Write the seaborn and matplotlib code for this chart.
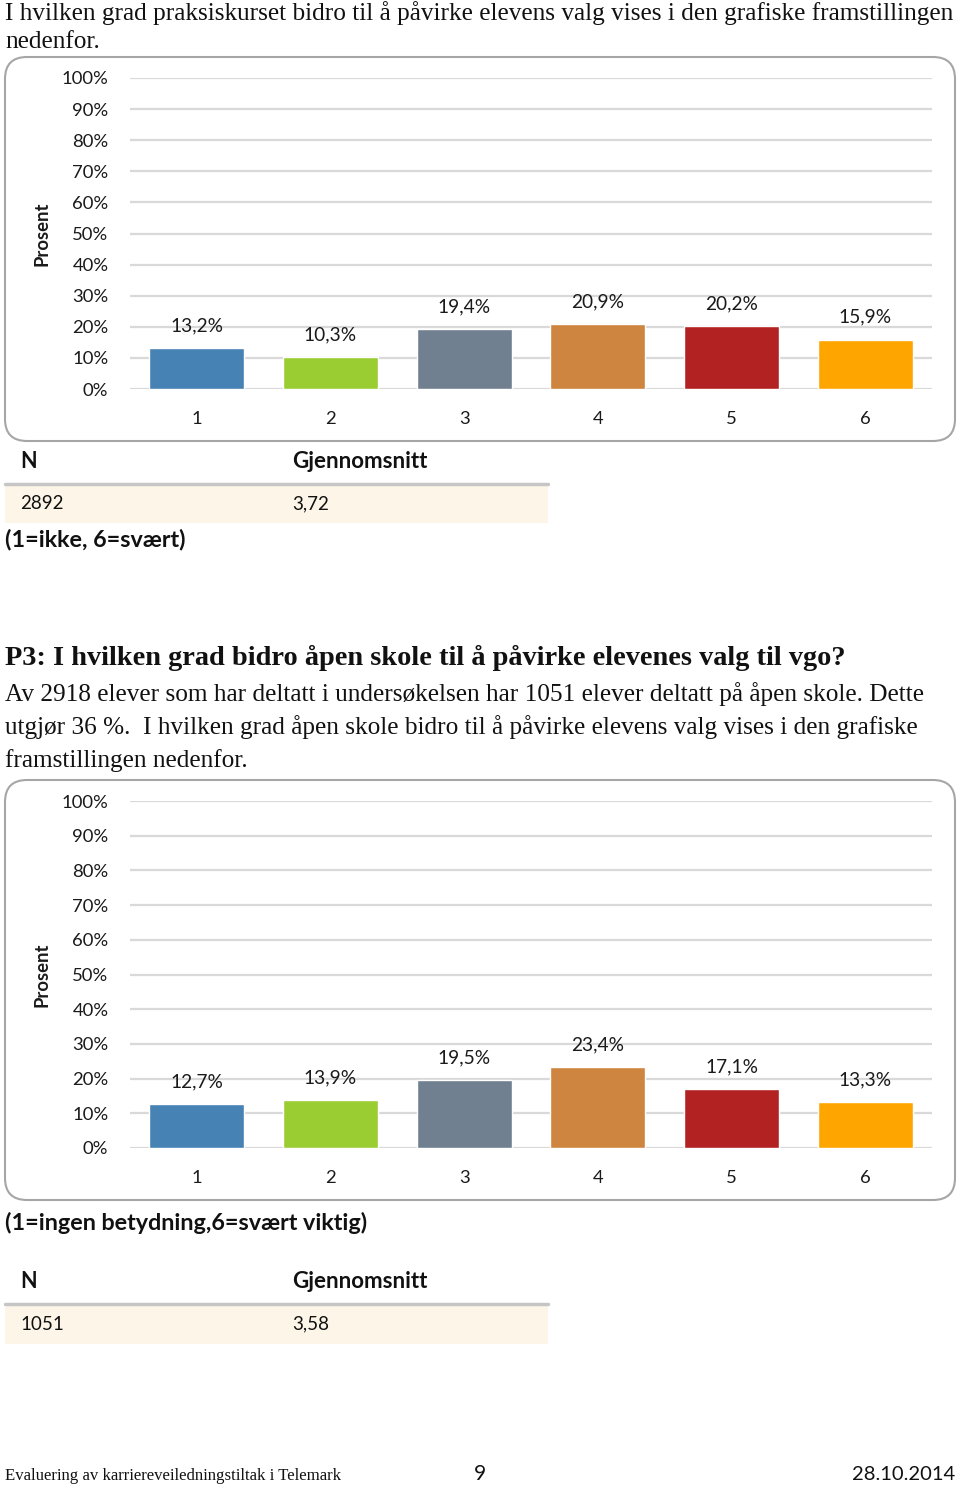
import matplotlib
matplotlib.use("Agg")
import matplotlib.pyplot as plt
from matplotlib.patches import FancyBboxPatch, Rectangle
import seaborn as sns
import pandas as pd

sns.set_theme(style="white")
plt.rcParams['font.family'] = ['Lato', 'DejaVu Sans']

# ---- data ----
categories = ["1", "2", "3", "4", "5", "6"]
bar_colors = ["#4682B4", "#9ACD32", "#708090", "#CD853F", "#B22222", "#FFA500"]
values_praksis = [13.2, 10.3, 19.4, 20.9, 20.2, 15.9]
values_apen = [12.7, 13.9, 19.5, 23.4, 17.1, 13.3]
yticks = [0, 10, 20, 30, 40, 50, 60, 70, 80, 90, 100]
n_praksis, mean_praksis = "2892", "3,72"
n_apen, mean_apen = "1051", "3,58"

W, H = 960, 1488
fig = plt.figure(figsize=(W / 100, H / 100), dpi=100)
fig.patch.set_facecolor("white")

# overlay axes in pixel coordinates
bg = fig.add_axes([0, 0, 1, 1], zorder=0)
bg.set_xlim(0, W)
bg.set_ylim(H, 0)
bg.axis("off")

SERIF = ['Liberation Serif', 'DejaVu Serif']
SANS = ['Lato', 'DejaVu Sans']


def px_axes(x0, y0, x1, y1):
    return fig.add_axes([x0 / W, 1 - y1 / H, (x1 - x0) / W, (y1 - y0) / H], zorder=2)


def draw_box(x0, y0, x1, y1):
    bg.add_patch(FancyBboxPatch((x0, y0), x1 - x0, y1 - y0,
                                boxstyle="round,pad=0,rounding_size=22",
                                fc="white", ec="#A6A6A6", lw=1.5))


def draw_chart(x0, y0, x1, y1, values):
    ax = px_axes(x0, y0, x1, y1)
    ax.set_facecolor("none")
    df = pd.DataFrame({"cat": categories, "val": values})
    sns.barplot(data=df, x="cat", y="val", hue="cat", palette=bar_colors,
                legend=False, width=0.71, saturation=1, ax=ax, zorder=3)
    ax.set_ylim(0, 100)
    ax.set_xlim(-0.5, 5.5)
    ax.set_yticks(yticks)
    ax.set_yticklabels([f"{t}%" for t in yticks], fontsize=13.3, color="#1A1A1A")
    ax.tick_params(axis="y", length=0, pad=15.5)
    ax.tick_params(axis="x", length=0, pad=16, labelsize=13.3, labelcolor="#1A1A1A")
    ax.yaxis.grid(True, color="#D9D9D9", lw=1.6, zorder=0)
    ax.set_axisbelow(True)
    for s in ax.spines.values():
        s.set_visible(False)
    ax.set_xlabel("")
    ax.set_ylabel("Prosent", fontsize=13.3, fontweight="bold", color="#1A1A1A", labelpad=8)
    for i, v in enumerate(values):
        ax.annotate(f"{v:.1f}%".replace(".", ","), (i, v), xytext=(0, 16),
                    textcoords="offset points", ha="center", va="center",
                    fontsize=13.8, color="#1A1A1A")
    return ax


def draw_table(y_head, y_line, y_fill1, n, mean):
    bg.text(20, y_head, "N", fontsize=15.5, fontweight="bold", family=SANS, va="center", color="#111111")
    bg.text(292, y_head, "Gjennomsnitt", fontsize=16, fontweight="bold", family=SANS, va="center", color="#111111")
    bg.add_patch(Rectangle((5, y_line + 1), 543, y_fill1 - y_line - 1, fc="#FDF6E8", ec="none"))
    bg.plot([5, 548], [y_line, y_line], color="#C6C6C6", lw=2.5)
    ymid = (y_line + y_fill1) / 2
    bg.text(20, ymid, n, fontsize=13.5, family=SANS, va="center", color="#111111")
    bg.text(292, ymid, mean, fontsize=13.5, family=SANS, va="center", color="#111111")


# ---- top text ----
bg.text(5, 13, "I hvilken grad praksiskurset bidro til å påvirke elevens valg vises i den grafiske framstillingen",
        fontsize=18.2, family=SERIF, va="center", color="#111111")
bg.text(5, 42, "nedenfor.", fontsize=18.2, family=SERIF, va="center", color="#111111")

# ---- chart 1 ----
draw_box(5, 57, 955, 441)
draw_chart(130, 78, 932, 389, values_praksis)
draw_table(461, 484, 523, n_praksis, mean_praksis)
bg.text(5, 540, "(1=ikke, 6=svært)", fontsize=16.8, fontweight="bold", family=SANS, va="center", color="#111111")

# ---- section P3 ----
bg.text(5, 658, "P3: I hvilken grad bidro åpen skole til å påvirke elevenes valg til vgo?",
        fontsize=20.4, fontweight="bold", family=SERIF, va="center", color="#111111")
para = ["Av 2918 elever som har deltatt i undersøkelsen har 1051 elever deltatt på åpen skole. Dette",
        "utgjør 36 %.  I hvilken grad åpen skole bidro til å påvirke elevens valg vises i den grafiske",
        "framstillingen nedenfor."]
for k, line in enumerate(para):
    bg.text(5, 694 + 33.5 * k, line, fontsize=18.2, family=SERIF, va="center", color="#111111")

# ---- chart 2 ----
draw_box(5, 780, 955, 1200)
draw_chart(130, 801, 932, 1148, values_apen)
bg.text(5, 1223, "(1=ingen betydning,6=svært viktig)", fontsize=16.8, fontweight="bold", family=SANS,
        va="center", color="#111111")
draw_table(1282, 1304, 1344, n_apen, mean_apen)

# ---- footer ----
bg.text(5, 1476, "Evaluering av karriereveiledningstiltak i Telemark", fontsize=12.1, family=SERIF,
        va="center", color="#111111")
bg.text(480, 1474, "9", fontsize=15, family=SANS, va="center", ha="center", color="#111111")
bg.text(955, 1474, "28.10.2014", fontsize=14.5, family=SANS, va="center", ha="right", color="#111111")

fig.savefig("out.png", dpi=100)
